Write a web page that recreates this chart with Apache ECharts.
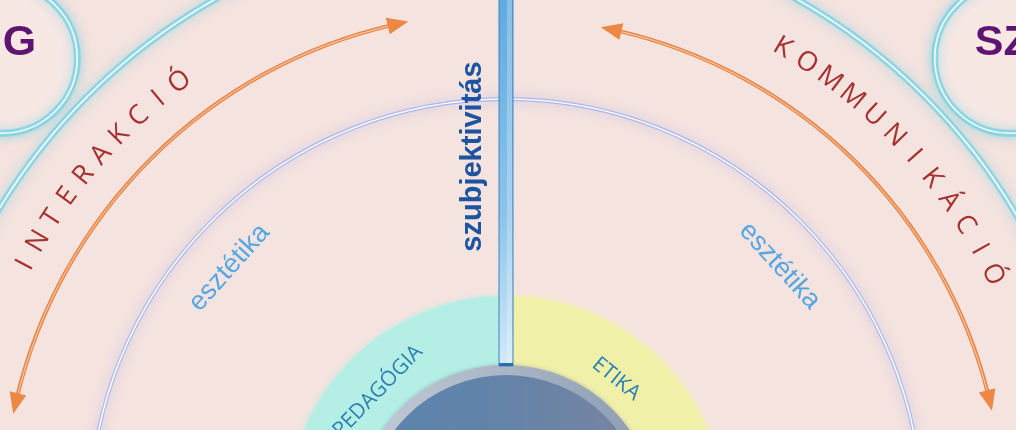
<!DOCTYPE html>
<html>
<head>
<meta charset="utf-8">
<script src="https://cdn.jsdelivr.net/npm/echarts@6/dist/echarts.min.js"></script>
<style>
    html, body { margin: 0; padding: 0; background: #f5e3df; }
    #chart { width: 1016px; height: 430px; }
</style>
</head>
<body>
<div id="chart"></div>
<script>
// 数据（角度：从正上方顺时针，单位度；半径：极坐标半径轴单位）
const ringLabels = ['ETIKA', 'PEDAGÓGIA'];
const ringFrom = [0, 180];
const ringTo = [180, 360];
const ringInner = [150, 150];
const ringOuter = [219, 219];
const ringLabelAngle = [39, -46];
const ringLabelRadius = [175, 178];

const coreRadius = [140, 150];

const guideRadius = [416, 592];

const sideWords = ['esztétika', 'esztétika'];
const sideWordAngle = [-48.2, 47.7];
const sideWordRadius = [371, 370];

const arcWords = ['INTERAKCIÓ', 'KOMMUNIKÁCIÓ'];
const arcWordFrom = [-62.5, 30.6];
const arcWordTo = [-37, 63.7];
const arcWordRadius = [542, 543];

const arrowRadius = [503, 497];
const arrowFrom = [-78.4, 11.0];
const arrowTo = [-11.2, 77.9];

const bubbleLabels = ['G', 'SZ'];
const bubbleAngle = [-47.8, 47.8];
const bubbleDist = [680, 680];
const bubbleRadius = [75, 75];

const axisLabels = ['szubjektivitás'];
const axisLabelAngle = [-5.3];
const axisLabelRadius = [360];
const barSpan = [149, 530];

// 工具
const norm = d => ((d % 360) + 360) % 360;

function geo(api) {
    const c = api.coord([0, 0]);
    const pt = (r, d) => api.coord([r, norm(d)]);
    const px = r => {
        const p = api.coord([r, 0]);
        return Math.hypot(p[0] - c[0], p[1] - c[1]);
    };
    const ang = d => {
        const p = pt(100, d);
        return Math.atan2(p[1] - c[1], p[0] - c[0]);
    };
    return { c, pt, px, ang };
}

const rad = d => d * Math.PI / 180;

const chart = echarts.init(document.getElementById('chart'));

const option = {
    backgroundColor: '#f5e3df',
    animation: false,
    polar: { center: [506, 515], radius: 592 },
    radiusAxis: { type: 'value', min: 0, max: 592, show: false },
    angleAxis: { type: 'value', min: 0, max: 360, startAngle: 90, clockwise: true, show: false },
    series: [
        // 引导圆
        {
            type: 'custom', coordinateSystem: 'polar', silent: true, z: 1,
            data: guideRadius.map(r => [r, 0]),
            renderItem: (params, api) => {
                const g = geo(api);
                const r = g.px(api.value(0));
                const inner = params.dataIndex === 0;
                const halo = inner ? 'rgba(150,165,235,0.7)' : 'rgba(120,210,225,0.75)';
                return {
                    type: 'group',
                    children: [
                        { type: 'circle', shape: { cx: g.c[0], cy: g.c[1], r },
                          style: { fill: 'none', stroke: halo, lineWidth: inner ? 4 : 7, shadowBlur: 12, shadowColor: halo } },
                        { type: 'circle', shape: { cx: g.c[0], cy: g.c[1], r },
                          style: { fill: 'none', stroke: '#f6fbff', lineWidth: 1.6 } }
                    ]
                };
            }
        },
        // 两侧小圆
        {
            type: 'custom', coordinateSystem: 'polar', silent: true, z: 2,
            data: bubbleLabels.map((n, i) => [bubbleDist[i], norm(bubbleAngle[i]), bubbleRadius[i]]),
            renderItem: (params, api) => {
                const g = geo(api);
                const p = api.coord([api.value(0), api.value(1)]);
                const r = g.px(api.value(2));
                const left = params.dataIndex === 0;
                return {
                    type: 'group',
                    children: [
                        { type: 'circle', shape: { cx: p[0], cy: p[1], r },
                          style: { fill: '#f7e8e4', stroke: 'rgba(120,210,225,0.75)', lineWidth: 7, shadowBlur: 12, shadowColor: 'rgba(120,210,225,0.75)' } },
                        { type: 'circle', shape: { cx: p[0], cy: p[1], r },
                          style: { fill: 'none', stroke: '#f6fbff', lineWidth: 1.6 } },
                        { type: 'text', x: p[0] + (left ? 34 : -35), y: p[1] - 15,
                          style: { text: bubbleLabels[params.dataIndex], fill: '#5e1470',
                                   font: 'bold 43px "Liberation Sans", Arial, sans-serif',
                                   align: left ? 'right' : 'left', verticalAlign: 'middle' } }
                    ]
                };
            }
        },
        // 双向箭头弧
        {
            type: 'custom', coordinateSystem: 'polar', silent: true, z: 3,
            data: arrowRadius.map((r, i) => [r, 0, arrowFrom[i], arrowTo[i]]),
            renderItem: (params, api) => {
                const g = geo(api);
                const R = api.value(0);
                const a0 = api.value(2), a1 = api.value(3);
                const Rpx = g.px(R);
                const headLen = 21, headHalf = 8.5;
                const d = headLen / Rpx * 180 / Math.PI;
                const arcShape = { cx: g.c[0], cy: g.c[1], r: Rpx,
                    startAngle: g.ang(a0 + d * 0.8), endAngle: g.ang(a1 - d * 0.8), clockwise: true };
                const head = (tip, base) => ({
                    type: 'polygon',
                    shape: { points: [g.pt(R, tip), g.pt(R + headHalf, base), g.pt(R - headHalf, base)] },
                    style: { fill: '#ee8644' }
                });
                return {
                    type: 'group',
                    children: [
                        { type: 'arc', shape: arcShape, style: { fill: 'none', stroke: '#e8884a', lineWidth: 4 } },
                        { type: 'arc', shape: arcShape, style: { fill: 'none', stroke: '#f8d2b4', lineWidth: 1 } },
                        head(a0, a0 + d),
                        head(a1, a1 - d)
                    ]
                };
            }
        },
        // 半环（伦理 / 教育）
        {
            type: 'custom', coordinateSystem: 'polar', silent: true, z: 4,
            data: ringLabels.map((n, i) => [ringOuter[i], 0, ringFrom[i], ringTo[i], ringInner[i]]),
            renderItem: (params, api) => {
                const g = geo(api);
                const fill = params.dataIndex === 0 ? '#f1f0a9' : '#b5eee5';
                return {
                    type: 'sector',
                    shape: { cx: g.c[0], cy: g.c[1], r0: g.px(api.value(4)), r: g.px(api.value(0)),
                             startAngle: g.ang(api.value(2)), endAngle: g.ang(api.value(3)), clockwise: true },
                    style: { fill, shadowBlur: 6, shadowColor: fill }
                };
            }
        },
        // 中心圆
        {
            type: 'custom', coordinateSystem: 'polar', silent: true, z: 5,
            data: [[coreRadius[1], 0, coreRadius[0]]],
            renderItem: (params, api) => {
                const g = geo(api);
                return {
                    type: 'group',
                    children: [
                        { type: 'circle', shape: { cx: g.c[0], cy: g.c[1], r: g.px(api.value(0)) },
                          style: { fill: new echarts.graphic.LinearGradient(0, 0, 1, 0, [
                              { offset: 0, color: '#c3ccd6' }, { offset: 0.5, color: '#a9b5c4' }, { offset: 1, color: '#8a9ab0' }]),
                              shadowBlur: 4, shadowColor: 'rgba(90,110,140,0.4)' } },
                        { type: 'circle', shape: { cx: g.c[0], cy: g.c[1], r: g.px(api.value(2)) },
                          style: { fill: new echarts.graphic.LinearGradient(0, 0, 1, 0, [
                              { offset: 0, color: '#5a85ae' }, { offset: 0.5, color: '#6483a8' }, { offset: 1, color: '#7a84a2' }]) } }
                    ]
                };
            }
        },
        // 竖直轴条
        {
            type: 'custom', coordinateSystem: 'polar', silent: true, z: 6,
            data: [[barSpan[1], 0, barSpan[0]]],
            renderItem: (params, api) => {
                const g = geo(api);
                const top = g.pt(api.value(0), 0);
                const bot = g.pt(api.value(2), 0);
                const w = 14;
                return {
                    type: 'group',
                    children: [
                        { type: 'rect', shape: { x: top[0] - w / 2, y: top[1], width: w, height: bot[1] - top[1] },
                          style: { fill: new echarts.graphic.LinearGradient(0, 0, 0, 1, [
                              { offset: 0, color: '#5ea9de' }, { offset: 0.6, color: '#8cc4eb' }, { offset: 1, color: '#d2eaf8' }]),
                              stroke: '#3f82c2', lineWidth: 1 } },
                        { type: 'rect', shape: { x: top[0] + 1, y: top[1], width: w / 2 - 2, height: bot[1] - top[1] },
                          style: { fill: 'rgba(255,255,255,0.25)' } },
                        { type: 'rect', shape: { x: top[0] - w / 2, y: bot[1] - 3, width: w, height: 3 },
                          style: { fill: '#2e6cae' } }
                    ]
                };
            }
        },
        // 文本：弧形大写词
        {
            type: 'custom', coordinateSystem: 'polar', silent: true, z: 10,
            data: arcWords.map((w, i) => [arcWordRadius[i], 0, arcWordFrom[i], arcWordTo[i]]),
            renderItem: (params, api) => {
                const g = geo(api);
                const word = Array.from(arcWords[params.dataIndex]);
                const R = api.value(0), a0 = api.value(2), a1 = api.value(3);
                const step = (a1 - a0) / (word.length - 1);
                return {
                    type: 'group',
                    children: word.map((ch, k) => {
                        const a = a0 + step * k;
                        const p = g.pt(R, a);
                        return { type: 'text', x: p[0], y: p[1], rotation: -rad(a),
                                 style: { text: ch, fill: '#a6312f', font: '27px "Open Sans", sans-serif',
                                          align: 'center', verticalAlign: 'middle' } };
                    })
                };
            }
        },
        // 文本：esztétika
        {
            type: 'custom', coordinateSystem: 'polar', silent: true, z: 10,
            data: sideWords.map((w, i) => [sideWordRadius[i], norm(sideWordAngle[i])]),
            renderItem: (params, api) => {
                const p = api.coord([api.value(0), api.value(1)]);
                const a = sideWordAngle[params.dataIndex];
                return { type: 'text', x: p[0], y: p[1], rotation: -rad(a),
                         style: { text: sideWords[params.dataIndex], fill: '#55a7e3',
                                  font: '27px "Liberation Sans", Arial, sans-serif',
                                  align: 'center', verticalAlign: 'middle' } };
            }
        },
        // 文本：环内标签
        {
            type: 'custom', coordinateSystem: 'polar', silent: true, z: 10,
            data: ringLabels.map((w, i) => [ringLabelRadius[i], norm(ringLabelAngle[i])]),
            renderItem: (params, api) => {
                const p = api.coord([api.value(0), api.value(1)]);
                const a = ringLabelAngle[params.dataIndex];
                return { type: 'text', x: p[0], y: p[1], rotation: -rad(a),
                         style: { text: ringLabels[params.dataIndex], fill: '#2a80b4',
                                  font: '21px "Open Sans", sans-serif',
                                  align: 'center', verticalAlign: 'middle' } };
            }
        },
        // 文本：szubjektivitás
        {
            type: 'custom', coordinateSystem: 'polar', silent: true, z: 10,
            data: axisLabels.map((w, i) => [axisLabelRadius[i], norm(axisLabelAngle[i])]),
            renderItem: (params, api) => {
                const p = api.coord([api.value(0), api.value(1)]);
                return { type: 'text', x: p[0], y: p[1], rotation: Math.PI / 2,
                         style: { text: axisLabels[params.dataIndex], fill: '#1d54a0',
                                  font: 'bold 29px "Liberation Sans", Arial, sans-serif',
                                  align: 'center', verticalAlign: 'middle' } };
            }
        }
    ]
};

chart.setOption(option);
</script>
</body>
</html>
